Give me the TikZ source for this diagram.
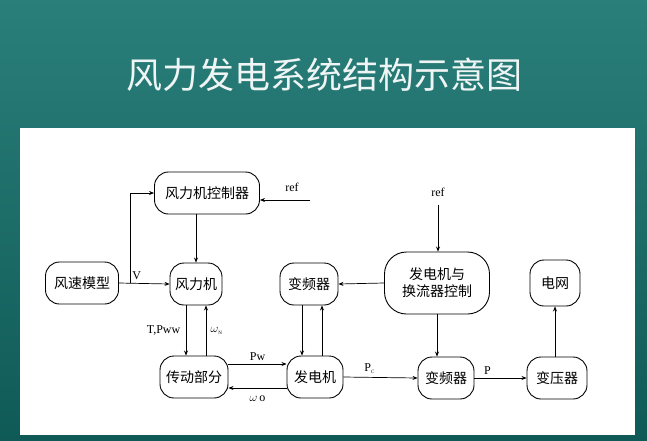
\documentclass[tikz,border=0pt]{standalone}
\usepackage{fontspec}
\newfontfamily\cjk{Noto Sans CJK SC}
\setmainfont{Liberation Serif}
\usetikzlibrary{arrows.meta}
\definecolor{bgA}{HTML}{0F5A57}
\definecolor{bgB}{HTML}{2A7F7A}
\tikzset{
  blk/.style={draw,line width=0.9pt,rectangle,rounded corners=14pt,minimum height=42pt,inner xsep=4pt,font=\cjk\fontsize{14}{17}\selectfont,align=center},
  con/.style={line width=0.7pt,-{Stealth[length=5pt,width=4pt]}},
  lab/.style={font=\fontsize{12}{14}\selectfont}
}
\begin{document}
\begin{tikzpicture}[x=1pt,y=-1pt]
\useasboundingbox (0,0) rectangle (647,440);
\shade[top color=bgB,bottom color=bgA] (0,0) rectangle (647,440);
\fill[white] (20,128) rectangle (635,435);
\node[font=\cjk\fontsize{36}{40}\selectfont,text=white!92!bgB] (title) at (324,75) {风力发电系统结构示意图};
\node[blk,minimum width=73pt] (ws) at (82,283) {风速模型};
\node[blk,minimum width=52pt] (wt) at (196,284) {风力机};
\node[blk,minimum width=105pt] (wc) at (207,193) {风力机控制器};
\node[blk,minimum width=68pt] (tr) at (194,377) {传动部分};
\node[blk,minimum width=56pt] (gen) at (315,377) {发电机};
\node[blk,minimum width=58pt] (cv1) at (309,284) {变频器};
\node[blk,minimum width=105pt,minimum height=62pt,rounded corners=22pt] (gc) at (437,283) {发电机与\\换流器控制};
\node[blk,minimum width=56pt] (cv2) at (446,378) {变频器};
\node[blk,minimum width=60pt] (tf) at (557,378) {变压器};
\node[blk,minimum width=50pt,minimum height=46pt] (grid) at (555,283) {电网};
\coordinate (r1) at (310,200);
\coordinate (r2) at (438,205);
\node[lab] (ref1) at (292,187) {ref};
\node[lab] (ref2) at (438,192) {ref};
\draw[con] (r1) -- (wc.east |- r1);
\draw[con] (r2) -- (gc.north -| r2);
\coordinate (br) at (130,283);
\draw[con] (ws.east) -- (wt.west) node[lab,pos=0.35,above] {V};
\draw[con] (br) |- (wc.west);
\draw[con] (wt.north |- wc.south) -- (wt.north);
\coordinate (d1) at (186,0); \coordinate (d2) at (206,0);
\draw[con] (d1 |- wt.south) -- (d1 |- tr.north) node[lab,midway,left=2pt] {T,Pww};
\draw[con] (d2 |- tr.north) -- (d2 |- wt.south) node[lab,midway,right=1pt] {$\omega$\raisebox{-2pt}{\tiny N}};
\coordinate (h1) at (0,364); \coordinate (h2) at (0,388);
\draw[con] (tr.east |- h1) -- (gen.west |- h1) node[lab,midway,above] {Pw};
\draw[con] (gen.west |- h2) -- (tr.east |- h2) node[lab,midway,below=4pt] {$\omega$\,o};
\coordinate (v1) at (302,0); \coordinate (v2) at (322,0);
\draw[con] (v1 |- cv1.south) -- (v1 |- gen.north);
\draw[con] (v2 |- gen.north) -- (v2 |- cv1.south);
\draw[con] (gc.west) -- (cv1.east);
\draw[con] (gc.south) -- (gc.south |- cv2.north);
\draw[con] (gen.east) -- (cv2.west) node[lab,pos=0.35,above] {P\raisebox{-2pt}{\tiny C}};
\draw[con] (cv2.east) -- (tf.west) node[lab,pos=0.25,above] {P};
\draw[con] (tf.north -| grid.south) -- (grid.south);
\end{tikzpicture}
\end{document}
